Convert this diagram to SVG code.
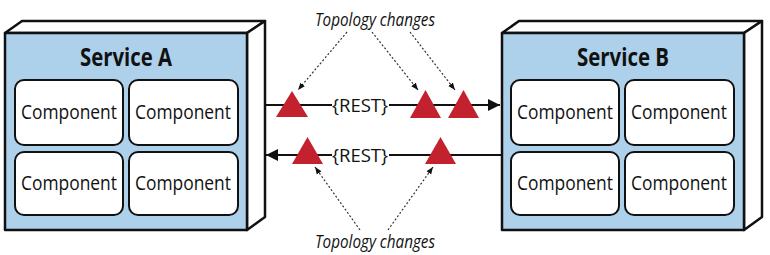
<svg xmlns="http://www.w3.org/2000/svg" width="770" height="255" viewBox="0 0 770 255">
<style>
.face{fill:#add1ea;stroke:#111;stroke-width:2.5;stroke-linejoin:round}
.side{fill:#fff;stroke:#111;stroke-width:2.5;stroke-linejoin:round}
.comp{fill:#fff;stroke:#111;stroke-width:2}
.title{font-family:"Open Sans","Liberation Sans",Arial,sans-serif;font-weight:bold;font-size:25px;fill:#111;text-anchor:middle}
.ctext{font-family:"Open Sans","Liberation Sans",Arial,sans-serif;font-size:20px;fill:#111;text-anchor:middle}
.rest{font-family:"Open Sans","Liberation Sans",Arial,sans-serif;font-size:19px;fill:#111;text-anchor:middle}
.topo{font-family:"Open Sans","Liberation Sans",Arial,sans-serif;font-style:italic;font-size:18px;fill:#111;text-anchor:middle}
.line{stroke:#111;stroke-width:2;fill:none}
.dot{stroke:#333;stroke-width:1.2;stroke-dasharray:2,2;fill:none}
.tri{fill:#c4212e}
</style>
<defs>
<marker id="ah" viewBox="0 0 10 10" refX="10" refY="5" markerWidth="6" markerHeight="6" orient="auto" markerUnits="strokeWidth"><path d="M0,0 L10,5 L0,10 z" fill="#111"/></marker>
<marker id="dh" viewBox="0 0 10 10" refX="10" refY="5" markerWidth="6" markerHeight="6" orient="auto" markerUnits="strokeWidth"><path d="M0,1 L10,5 L0,9 z" fill="#111"/></marker>
</defs>
<rect width="770" height="255" fill="#fff"/>
<g id="serviceA">
<polygon class="side" points="5,33 22,21 265,21 247,33"/>
<polygon class="side" points="247,33 265,21 265,217 247,230"/>
<rect class="face" x="5" y="33" width="242" height="197"/>
<text class="title" x="126" y="66" textLength="92" lengthAdjust="spacingAndGlyphs">Service A</text>
<rect class="comp" x="15" y="80" width="108" height="65" rx="9"/>
<rect class="comp" x="129" y="80" width="109" height="65" rx="9"/>
<rect class="comp" x="15" y="152" width="108" height="63" rx="9"/>
<rect class="comp" x="129" y="152" width="109" height="63" rx="9"/>
<text class="ctext" x="69" y="119" textLength="96" lengthAdjust="spacingAndGlyphs">Component</text>
<text class="ctext" x="183" y="119" textLength="96" lengthAdjust="spacingAndGlyphs">Component</text>
<text class="ctext" x="69" y="190" textLength="96" lengthAdjust="spacingAndGlyphs">Component</text>
<text class="ctext" x="183" y="190" textLength="96" lengthAdjust="spacingAndGlyphs">Component</text>
</g>
<g id="serviceB">
<polygon class="side" points="502,33 519,21 762,21 744,33"/>
<polygon class="side" points="744,33 762,21 762,217 744,230"/>
<rect class="face" x="502" y="33" width="242" height="197"/>
<text class="title" x="623" y="66" textLength="92" lengthAdjust="spacingAndGlyphs">Service B</text>
<rect class="comp" x="511" y="80" width="108" height="65" rx="9"/>
<rect class="comp" x="625" y="80" width="109" height="65" rx="9"/>
<rect class="comp" x="511" y="152" width="108" height="63" rx="9"/>
<rect class="comp" x="625" y="152" width="109" height="63" rx="9"/>
<text class="ctext" x="565" y="119" textLength="96" lengthAdjust="spacingAndGlyphs">Component</text>
<text class="ctext" x="679" y="119" textLength="96" lengthAdjust="spacingAndGlyphs">Component</text>
<text class="ctext" x="565" y="190" textLength="96" lengthAdjust="spacingAndGlyphs">Component</text>
<text class="ctext" x="679" y="190" textLength="96" lengthAdjust="spacingAndGlyphs">Component</text>
</g>
<g id="connectors">
<line class="line" x1="266" y1="105" x2="500" y2="105" marker-end="url(#ah)"/>
<line class="line" x1="501" y1="155" x2="266" y2="155" marker-end="url(#ah)"/>
<rect x="332" y="94" width="57" height="22" fill="#fff"/>
<rect x="332" y="144" width="57" height="22" fill="#fff"/>
<text class="rest" x="360" y="112" textLength="56" lengthAdjust="spacingAndGlyphs">{REST}</text>
<text class="rest" x="360" y="162" textLength="56" lengthAdjust="spacingAndGlyphs">{REST}</text>
<polygon class="tri" points="292,91 308,117 276,117"/>
<polygon class="tri" points="425.5,90 441,118 410,118"/>
<polygon class="tri" points="463.5,90 479,118 448,118"/>
<polygon class="tri" points="307.5,137 323,164 292,164"/>
<polygon class="tri" points="440.5,137 456,164 425,164"/>
<line class="dot" x1="347" y1="32" x2="298" y2="90" marker-end="url(#dh)"/>
<line class="dot" x1="372" y1="32" x2="418" y2="90" marker-end="url(#dh)"/>
<line class="dot" x1="410" y1="32" x2="455" y2="90" marker-end="url(#dh)"/>
<line class="dot" x1="360" y1="230" x2="315" y2="167" marker-end="url(#dh)"/>
<line class="dot" x1="388" y1="230" x2="433" y2="167" marker-end="url(#dh)"/>
<text class="topo" x="375" y="26" textLength="120" lengthAdjust="spacingAndGlyphs">Topology changes</text>
<text class="topo" x="375" y="248" textLength="120" lengthAdjust="spacingAndGlyphs">Topology changes</text>
</g>
</svg>
